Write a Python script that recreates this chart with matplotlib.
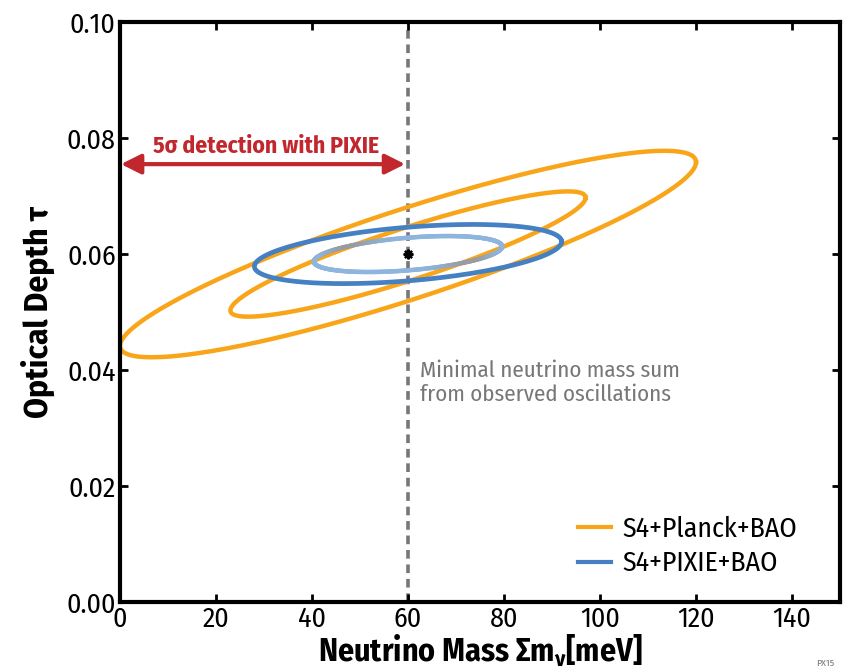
import numpy as np
import matplotlib
matplotlib.use("Agg")
import matplotlib.pyplot as plt
from matplotlib.collections import LineCollection
from matplotlib.colors import to_rgb

plt.rcParams['font.family'] = ['Fira Sans Condensed', 'Roboto Condensed', 'DejaVu Sans']

# ---- data ----
center_mass = 60.0      # meV
center_tau = 0.060
# ellipses: (sigma_mass, sigma_tau, correlation)
planck_outer = (60.0, 0.0178, 0.89)
planck_inner = (37.0, 0.0108, 0.90)
pixie_outer = (32.0, 0.0051, 0.42)
pixie_inner = (19.6, 0.0031, 0.42)
min_mass = 60.0
arrow_tau = 0.0755
xticks = [0, 20, 40, 60, 80, 100, 120, 140]
yticks = [0.00, 0.02, 0.04, 0.06, 0.08, 0.10]
ytick_labels = ["0.00", "0.02", "0.04", "0.06", "0.08", "0.10"]

ORANGE = "#f9a51a"
BLUE = "#4580c3"
LIGHTBLUE = "#8db5dd"
RED = "#c1272d"
GRAY = "#777777"


def ellipse(sx, sy, rho, n=400):
    t = np.linspace(0, 2 * np.pi, n)
    x = center_mass + sx * np.cos(t)
    y = center_tau + sy * (rho * np.cos(t) + np.sqrt(1 - rho ** 2) * np.sin(t))
    return t, x, y


fig = plt.figure(figsize=(8.48, 6.68), dpi=100)
ax = fig.add_axes([0.1415, 0.0988, 0.8491, 0.8682])

for params in (planck_outer, planck_inner):
    _, x, y = ellipse(*params)
    ax.plot(x, y, color=ORANGE, lw=3.2)
_, x, y = ellipse(*pixie_outer)
ax.plot(x, y, color=BLUE, lw=3.4)

# inner PIXIE contour, tinted grey on two opposite arcs as in the original
t, x, y = ellipse(*pixie_inner)
pts = np.column_stack([x, y])
segs = np.stack([pts[:-1], pts[1:]], axis=1)
tm = 0.5 * (t[:-1] + t[1:])
w = np.clip(np.cos(2 * (tm - 2.3)), 0, 1) ** 4
c1 = np.array(to_rgb(LIGHTBLUE))
c2 = np.array(to_rgb("#9a9aa0"))
cols = (1 - w)[:, None] * c1 + w[:, None] * c2
ax.add_collection(LineCollection(segs, colors=cols, linewidths=3.2, capstyle='round'))

ax.axvline(min_mass, color=GRAY, lw=2.6, ls=(0, (2.4, 1.6)), zorder=1)
ax.plot([center_mass], [center_tau], marker=(8, 2, 0), color='black', ms=7, mew=1.6, zorder=5)

ax.annotate("", xy=(0.2, arrow_tau), xytext=(min_mass - 0.6, arrow_tau),
            arrowprops=dict(arrowstyle="<|-|>,head_length=1.2,head_width=0.6",
                            color=RED, lw=3, shrinkA=0, shrinkB=0))
ax.text(30.5, 0.0785, "5σ detection with PIXIE", color=RED, fontsize=17,
        fontweight='bold', ha='center', va='center')

ax.text(62.5, 0.0378, "Minimal neutrino mass sum\nfrom observed oscillations",
        color=GRAY, fontsize=16.5, ha='left', va='center', linespacing=1.15)

ax.plot([], [], color=ORANGE, lw=3, label="S4+Planck+BAO")
ax.plot([], [], color=BLUE, lw=3, label="S4+PIXIE+BAO")
ax.legend(loc='lower right', frameon=False, fontsize=20, handlelength=1.2,
          handletextpad=0.4, labelspacing=0.3, bbox_to_anchor=(0.975, 0.0))

ax.set_xlim(0, 150)
ax.set_ylim(0, 0.10)
ax.set_xticks(xticks)
ax.set_yticks(yticks)
ax.set_yticklabels(ytick_labels)
ax.tick_params(direction='in', length=6, width=2, labelsize=20, top=True, right=True, pad=3)
for s in ax.spines.values():
    s.set_linewidth(3)

ax.set_xlabel("Neutrino Mass Σm$_\\mathregular{ν}$[meV]", fontsize=23, fontweight='bold', labelpad=0)
ax.set_ylabel("Optical Depth τ", fontsize=24, fontweight='bold', labelpad=8)

fig.text(0.962, 0.001, "PX15", fontsize=7, color=GRAY, ha='left', va='bottom')

fig.savefig("out.png", dpi=100)
